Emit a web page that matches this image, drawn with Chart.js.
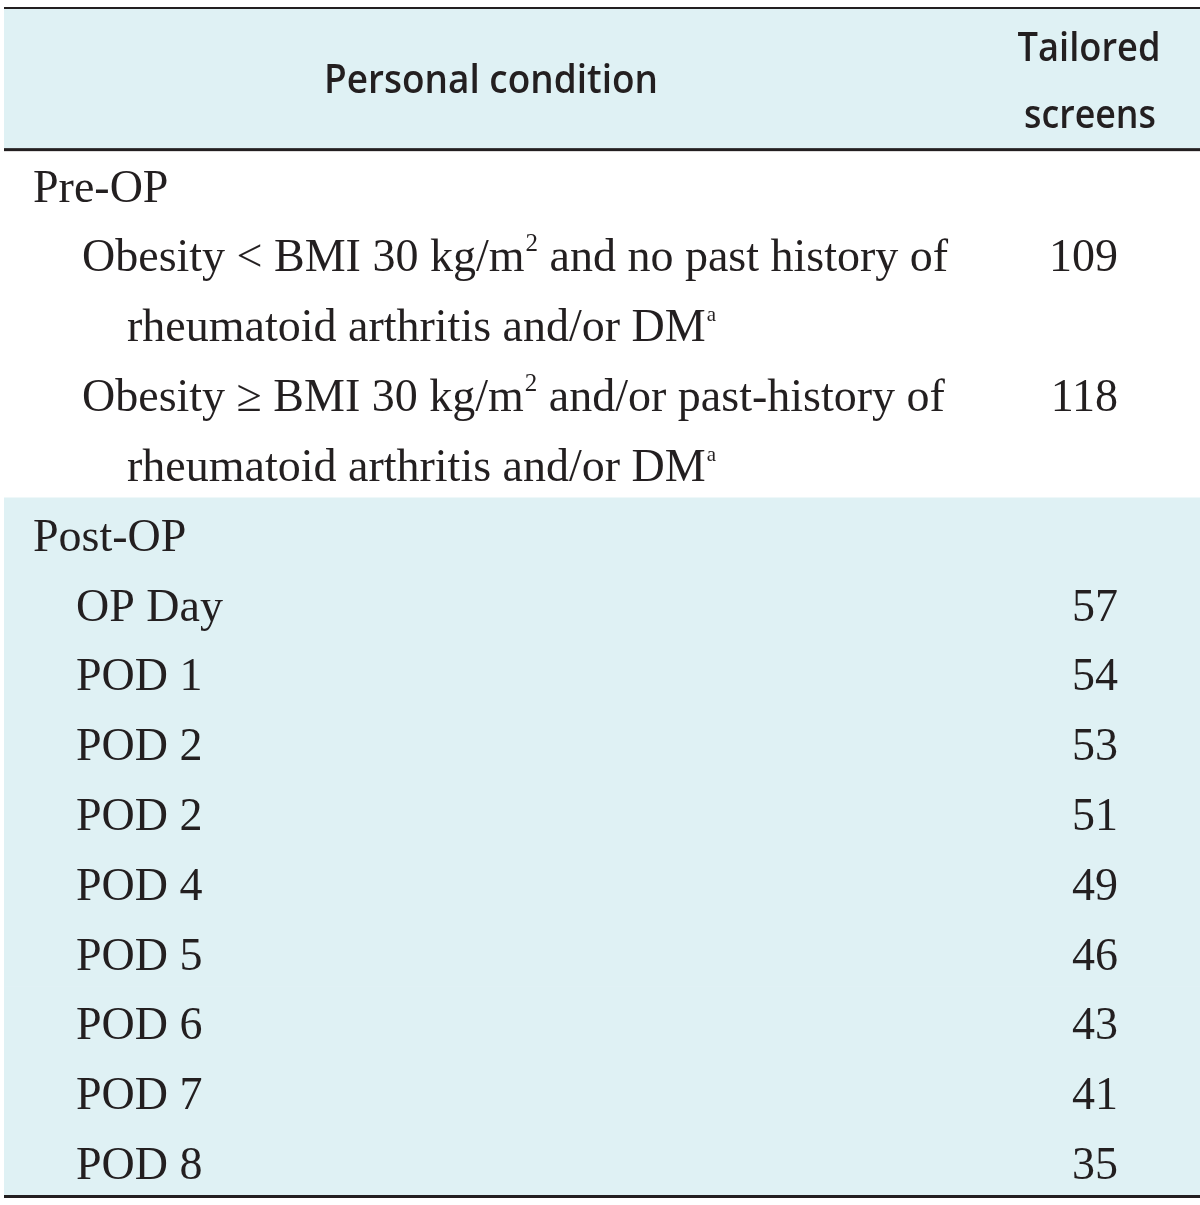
<!DOCTYPE html>
<html><head><meta charset="utf-8">
<script src="https://cdn.jsdelivr.net/npm/chart.js@4.4.1/dist/chart.umd.min.js"></script>
<style>html,body{margin:0;padding:0;background:#fff;}</style>
</head><body>
<canvas id="c" width="1200" height="1205" aria-label="Tailored screens by personal condition"></canvas>
<script>
// ---- data ----
const headerConditionLabel = "Personal condition";
const headerCountLabel = ["Tailored", "screens"];
const sectionLabels = ["Pre-OP", "Post-OP"];
const preOpConditions = [
  ["Obesity < BMI 30 kg/m^2 and no past history of", "rheumatoid arthritis and/or DM^a"],
  ["Obesity \u2265 BMI 30 kg/m^2 and/or past-history of", "rheumatoid arthritis and/or DM^a"]
];
const preOpScreens = [109, 118];
const postOpDays = ["OP Day", "POD 1", "POD 2", "POD 2", "POD 4", "POD 5", "POD 6", "POD 7", "POD 8"];
const postOpScreens = [57, 54, 53, 51, 49, 46, 43, 41, 35];

// ---- build line slots ----
const slots = [];
slots.push({kind: 'head', text: headerCountLabel[0], shaded: true});
slots.push({kind: 'head', text: headerCountLabel[1], shaded: true});
slots.push({kind: 'section', text: sectionLabels[0], shaded: false});
preOpConditions.forEach((lines, i) => {
  lines.forEach((ln, j) => slots.push({kind: j === 0 ? 'cond' : 'cont', text: ln, value: j === 0 ? preOpScreens[i] : null, shaded: false}));
});
slots.push({kind: 'section', text: sectionLabels[1], shaded: true});
postOpDays.forEach((d, i) => slots.push({kind: 'day', text: d, value: postOpScreens[i], shaded: true}));

const INK = '#231f20';
const SERIF = '"Liberation Serif", "DejaVu Serif", serif';
const SANS = '"Open Sans", Lato, sans-serif';

function drawRich(ctx, str, x, y, size) {
  // '^' marks a one-character superscript
  let cx = x;
  let i = 0;
  while (i < str.length) {
    if (str[i] === '^') {
      const ch = str[i + 1];
      const small = ch === 'a' ? 0.46 : 0.55;
      ctx.font = `${Math.round(size * small)}px ${SERIF}`;
      ctx.fillText(ch, cx + 1, y - size * 0.44);
      cx += ctx.measureText(ch).width + 1;
      i += 2;
    } else {
      let j = str.indexOf('^', i);
      if (j < 0) j = str.length;
      const seg = str.slice(i, j);
      ctx.font = `${size}px ${SERIF}`;
      ctx.fillText(seg, cx, y);
      cx += ctx.measureText(seg).width;
      i = j;
    }
  }
}

const tablePlugin = {
  id: 'tableText',
  afterDatasetsDraw(chart) {
    const {ctx, chartArea: a, scales: {y}} = chart;
    const c = k => y.getPixelForValue(k);
    const pitch = c(1) - c(0);
    ctx.save();
    ctx.fillStyle = INK;
    // rules
    ctx.fillRect(a.left, a.top - 2, a.right - a.left, 2);
    ctx.fillRect(a.left, c(1) + pitch / 2 - 0.5, a.right - a.left, 3);
    ctx.fillRect(a.left, a.bottom - 1, a.right - a.left, 3);

    const bodySize = 46;
    const off = 18;
    const numRight = a.right - 82;
    // header
    ctx.textAlign = 'center';
    ctx.textBaseline = 'alphabetic';
    ctx.font = `600 40px ${SANS}`;
    ctx.fillText(headerConditionLabel, a.left + 487, (c(0) + c(1)) / 2 + 14, 334);
    ctx.fillText(slots[0].text, a.left + 1085, c(0) + 17, 143);
    ctx.fillText(slots[1].text, a.left + 1086, c(1) + 14, 132);

    slots.forEach((s, k) => {
      if (s.kind === 'head') return;
      const base = c(k) + off;
      ctx.textAlign = 'left';
      let x = a.left;
      if (s.kind === 'section') x += 29;
      else if (s.kind === 'cond') x += 78;
      else if (s.kind === 'cont') x += 123;
      else x += 72;
      drawRich(ctx, s.text, x, base, bodySize);
      if (s.value != null) {
        ctx.textAlign = 'right';
        ctx.font = `${bodySize}px ${SERIF}`;
        ctx.fillText(String(s.value), numRight, base);
      }
    });
    ctx.restore();
  }
};

new Chart(document.getElementById('c'), {
  type: 'bar',
  data: {
    labels: slots.map(s => s.text),
    datasets: [{
      label: 'band',
      data: slots.map(s => s.shaded ? [0, 1] : null),
      backgroundColor: '#dff1f4',
      borderWidth: 0,
      barPercentage: 1,
      categoryPercentage: 1
    }]
  },
  options: {
    indexAxis: 'y',
    responsive: false,
    animation: false,
    devicePixelRatio: 1,
    layout: {padding: {left: 4, top: 9, right: 0, bottom: 9}},
    scales: {
      x: {type: 'linear', min: 0, max: 1, display: false},
      y: {type: 'category', display: false, offset: true, grid: {display: false}}
    },
    plugins: {legend: {display: false}, tooltip: {enabled: false}}
  },
  plugins: [tablePlugin]
});
</script>
</body></html>
